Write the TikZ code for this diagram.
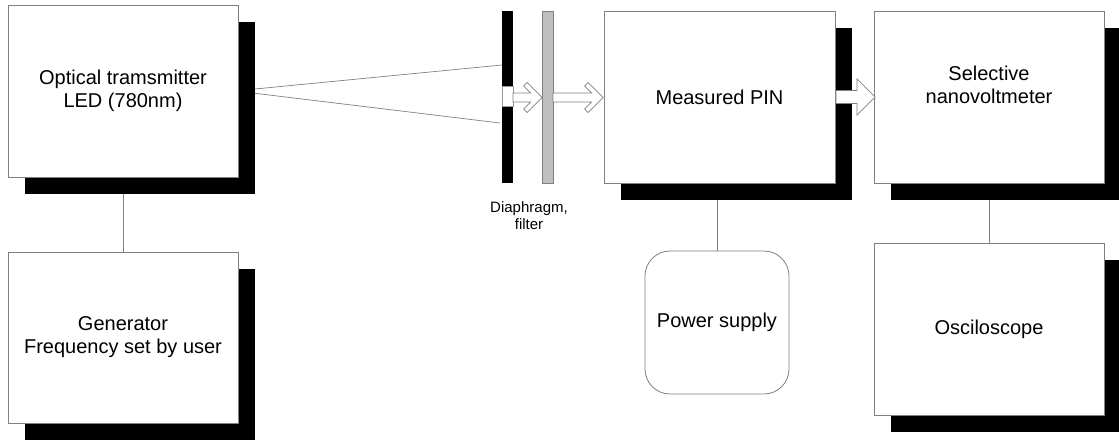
\documentclass[tikz,border=0pt]{standalone}
\usepackage{fontspec}
\setmainfont{Liberation Sans}
\usetikzlibrary{shadows,backgrounds}
\begin{document}
\begin{tikzpicture}[x=1pt,y=-1pt,
  box/.style={draw=black!50, line width=0.8pt, fill=white,
    minimum width=230pt, minimum height=172pt, inner sep=0pt, align=center,
    font=\fontsize{20}{23}\selectfont,
    drop shadow={shadow xshift=17pt, shadow yshift=-17pt, fill=black, opacity=1, draw=none}},
  txt/.style={inner sep=0pt, align=center, font=\fontsize{20}{23}\selectfont},
  psubox/.style={draw=black!50, line width=0.8pt, fill=white, rounded corners=25pt,
    minimum width=144pt, minimum height=143pt, inner sep=0pt, align=center,
    font=\fontsize{20}{23}\selectfont},
  bar/.style={minimum width=11pt, minimum height=172pt, inner sep=0pt},
  conn/.style={draw=black!50, line width=0.7pt},
  harrow/.style={draw=black!50, fill=white, line width=0.7pt, line join=miter}
]
\useasboundingbox (0,0) rectangle (1119,444);

% boxes
\node[box] (led) at (123,91) {Optical tramsmitter\\LED (780nm)};
\node[box, minimum height=171pt] (gen) at (123,337.5) {Generator\\Frequency set by user};
\node[box, minimum width=231pt] (pin) at (719.5,97) {Measured PIN};
\node[box] (sel) at (989,97) {};
\node[txt] (seltext) at (989,85) {Selective\\nanovoltmeter};
\node[box] (osc) at (989,329) {Osciloscope};
\node[psubox] (psu) at (717,322.5) {Power supply};

% diaphragm and filter
\node[bar, fill=black] (dia) at (507.5,97) {};
\node[fill=white, draw=black!40, line width=0.5pt, minimum width=11pt, minimum height=20pt, inner sep=0pt] (hole) at (507.5,96.5) {};
\node[bar, fill=black!25, draw=black!50, line width=0.6pt] (filt) at (547.5,97) {};
\node[anchor=north, inner sep=0pt, align=center, font=\fontsize{15}{17.5}\selectfont] (dlabel) at (529,201) {Diaphragm,\\filter};

% light beam
\coordinate (bs1) at (255,89);
\coordinate (bs2) at (255,93.3);
\coordinate (be1) at (502,65);
\coordinate (be2) at (500,123);
\draw[conn] (bs1) -- (be1);
\draw[conn] (bs2) -- (be2);

% hollow arrows
\draw[harrow] (513,93) -- (530.5,93) -- (523.5,86) -- (527,82.5) -- (542,97.5) -- (527,112.5) -- (523.5,109) -- (530.5,102) -- (513,102) -- cycle;
\draw[harrow] (553,93) -- (591.5,93) -- (584.5,86) -- (588,82.5) -- (603,97.5) -- (588,112.5) -- (584.5,109) -- (591.5,102) -- (553,102) -- cycle;
\draw[harrow] (836,90.5) -- (857,90.5) -- (857,79) -- (875,97) -- (857,115) -- (857,103.5) -- (836,103.5) -- cycle;

% connectors
\begin{scope}[on background layer]
\draw[conn] (led.south) -- (gen.north);
\draw[conn] (pin.south -| psu.north) -- (psu.north);
\draw[conn] (sel.south) -- (osc.north);
\end{scope}
\end{tikzpicture}
\end{document}
